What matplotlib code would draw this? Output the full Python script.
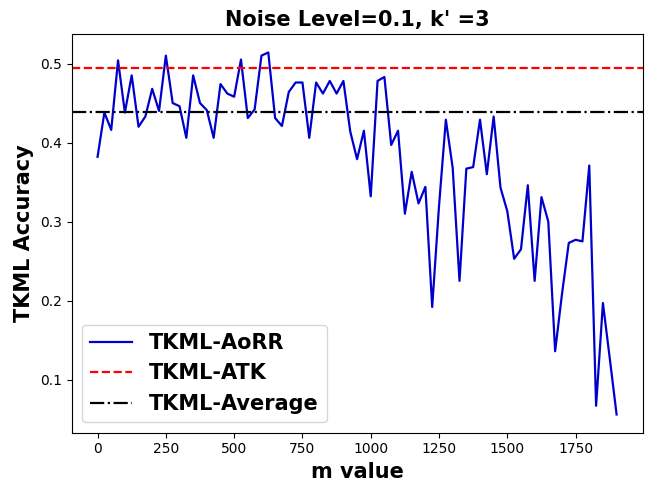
import numpy as np
import matplotlib
matplotlib.use("Agg")
import matplotlib.pyplot as plt

m_values = list(range(0, 1901, 25))
aorr = [0.382, 0.438, 0.416, 0.504, 0.438, 0.485, 0.420, 0.433, 0.468, 0.440,
        0.510, 0.450, 0.446, 0.406, 0.485, 0.450, 0.441, 0.406, 0.474, 0.462,
        0.458, 0.505, 0.431, 0.442, 0.510, 0.514, 0.431, 0.421, 0.464, 0.476,
        0.476, 0.406, 0.476, 0.462, 0.478, 0.462, 0.478, 0.414, 0.379, 0.415,
        0.332, 0.478, 0.483, 0.397, 0.415, 0.310, 0.363, 0.323, 0.344, 0.192,
        0.320, 0.429, 0.368, 0.225, 0.367, 0.369, 0.429, 0.360, 0.433, 0.343,
        0.313, 0.253, 0.265, 0.346, 0.225, 0.331, 0.300, 0.136, 0.208, 0.273,
        0.277, 0.275, 0.371, 0.067, 0.197, 0.127, 0.056]
atk_value = 0.4944
average_value = 0.4387

fig = plt.figure(figsize=(6.51, 4.91), dpi=100)
ax = fig.add_subplot(111)
fig.subplots_adjust(left=0.110, right=0.987, top=0.930, bottom=0.119)

ax.plot(m_values, aorr, color='mediumblue', linewidth=1.6, label='TKML-AoRR')
ax.axhline(atk_value, color='red', linestyle='--', linewidth=1.6, label='TKML-ATK')
ax.axhline(average_value, color='black', linestyle='-.', linewidth=1.6, label='TKML-Average')

ax.set_title("Noise Level=0.1, k' =3", fontsize=15, fontweight='bold')
ax.set_xlabel('m value', fontsize=15, fontweight='bold')
ax.set_ylabel('TKML Accuracy', fontsize=15, fontweight='bold')
ax.set_xticks([0, 250, 500, 750, 1000, 1250, 1500, 1750])
ax.legend(loc='lower left', prop={'size': 15, 'weight': 'bold'})

fig.savefig('out.png', dpi=100)
